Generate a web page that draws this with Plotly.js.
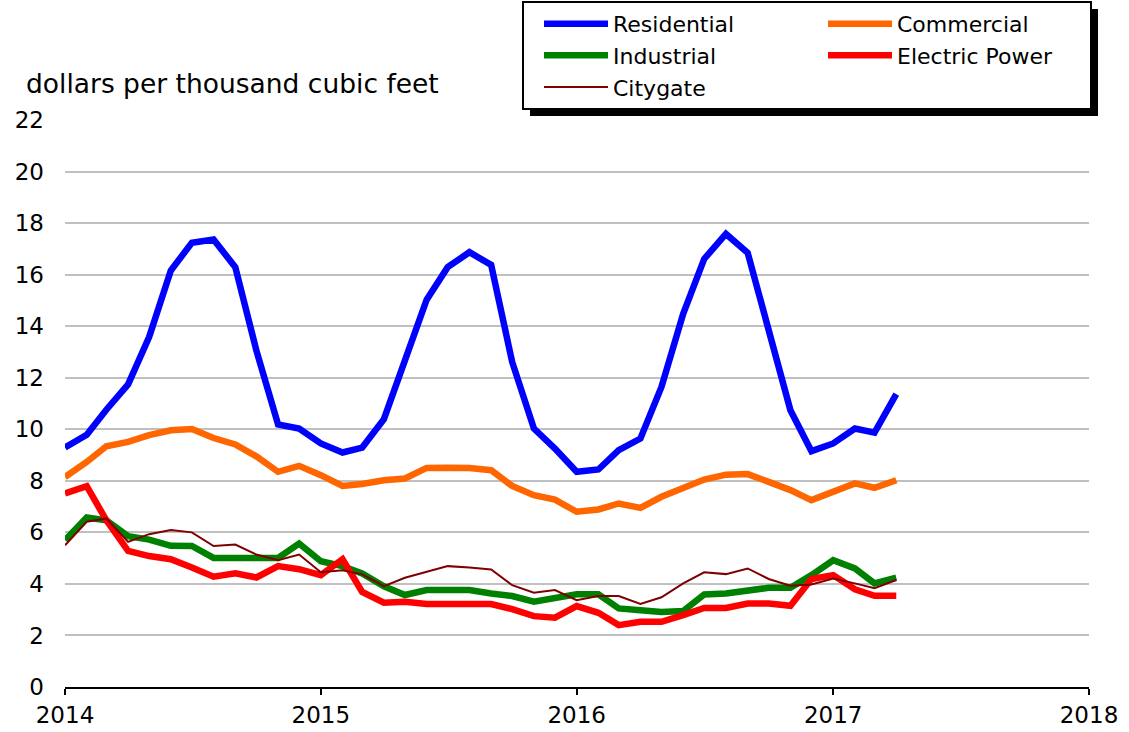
<!DOCTYPE html>
<html>
<head>
<meta charset="utf-8">
<script src="https://cdn.plot.ly/plotly-3.0.1.min.js"></script>
<style>
html,body{margin:0;padding:0;background:#fff;}
#chart{width:1129px;height:732px;}
</style>
</head>
<body>
<div id="chart"></div>
<script>
// Monthly data, Jan 2014 - Apr 2017
const months = [
 '2014-01-01','2014-02-01','2014-03-01','2014-04-01','2014-05-01','2014-06-01','2014-07-01','2014-08-01','2014-09-01','2014-10-01','2014-11-01','2014-12-01',
 '2015-01-01','2015-02-01','2015-03-01','2015-04-01','2015-05-01','2015-06-01','2015-07-01','2015-08-01','2015-09-01','2015-10-01','2015-11-01','2015-12-01',
 '2016-01-01','2016-02-01','2016-03-01','2016-04-01','2016-05-01','2016-06-01','2016-07-01','2016-08-01','2016-09-01','2016-10-01','2016-11-01','2016-12-01',
 '2017-01-01','2017-02-01','2017-03-01','2017-04-01'
];
const residential = [9.29,9.79,10.76,11.74,13.58,16.16,17.24,17.36,16.29,13.06,10.19,10.03,
 9.45,9.10,9.29,10.39,12.67,15.03,16.29,16.87,16.38,12.61,10.03,9.25,
 8.35,8.44,9.19,9.64,11.64,14.48,16.61,17.58,16.85,13.84,10.74,9.15,
 9.45,10.03,9.87,11.36];
const commercial = [8.15,8.73,9.34,9.51,9.77,9.96,10.01,9.66,9.41,8.95,8.35,8.58,
 8.22,7.80,7.88,8.02,8.09,8.50,8.51,8.50,8.41,7.80,7.44,7.27,
 6.80,6.89,7.12,6.95,7.38,7.70,8.05,8.24,8.26,7.96,7.64,7.25,
 7.60,7.90,7.73,8.02];
const industrial = [5.70,6.58,6.47,5.85,5.72,5.48,5.47,5.01,5.01,5.01,5.01,5.57,
 4.88,4.69,4.41,3.91,3.57,3.76,3.76,3.76,3.63,3.53,3.31,3.48,
 3.60,3.60,3.05,2.98,2.91,2.95,3.59,3.63,3.76,3.85,3.85,4.34,
 4.92,4.60,4.02,4.24];
const electricPower = [7.51,7.79,6.47,5.28,5.08,4.96,4.64,4.28,4.41,4.25,4.69,4.57,
 4.34,4.96,3.69,3.27,3.31,3.22,3.22,3.22,3.22,3.02,2.75,2.69,
 3.14,2.88,2.40,2.53,2.53,2.79,3.07,3.07,3.24,3.24,3.15,4.19,
 4.34,3.79,3.54,3.54];
const citygate = [5.50,6.41,6.54,5.63,5.93,6.09,6.00,5.47,5.53,5.14,4.92,5.14,
 4.45,4.53,4.37,3.91,4.24,4.47,4.69,4.64,4.56,3.95,3.66,3.76,
 3.37,3.53,3.53,3.22,3.48,4.02,4.45,4.38,4.60,4.19,3.93,3.98,
 4.21,4.02,3.83,4.15];
const yearTicks = ['2014-01-01','2015-01-01','2016-01-01','2017-01-01','2018-01-01'];
const yearLabels = ['2014','2015','2016','2017','2018'];
const yAxisLabel = 'dollars per thousand cubic feet';

const FONT = 'DejaVu Sans, Liberation Sans, Arial, sans-serif';

function line(name, y, color, width, group, lw) {
  return {x: months, y: y, name: name, type: 'scatter', mode: 'lines',
    line: {color: color, width: width, shape: 'linear'}, legendgroup: group,
    legendwidth: lw, hoverinfo: 'x+y+name'};
}
const data = [
  line('Residential', residential, '#0000FF', 6.5, 'a', 205),
  line('Commercial', commercial, '#FF6600', 6.5, 'b', 188),
  line('Industrial', industrial, '#008000', 6.5, 'a', 205),
  line('Electric Power', electricPower, '#FF0000', 6.5, 'b', 188),
  line('Citygate', citygate, '#7F0000', 2, 'a', 205)
];

const gapShapes = yearTicks.slice(1, 4).map(d => ({
  type: 'line', xref: 'x', yref: 'y', x0: d, x1: d, y0: 0.15, y1: 22.2,
  line: {color: '#FFFFFF', width: 3}, layer: 'below'
}));

const layout = {
  width: 1129, height: 732,
  margin: {l: 65, r: 40, t: 120, b: 45, autoexpand: false},
  paper_bgcolor: '#FFFFFF', plot_bgcolor: '#FFFFFF',
  font: {family: FONT, size: 23, color: '#000000'},
  showlegend: true,
  legend: {
    x: 0.4463, y: 1.21, xanchor: 'left', yanchor: 'top',
    orientation: 'h', traceorder: 'grouped',
    bgcolor: '#FFFFFF', bordercolor: '#000000', borderwidth: 2,
    font: {family: FONT, size: 22, color: '#000000'},
    title: {text: '\u00a0', side: 'left', font: {family: FONT, size: 22}},
    itemwidth: 64, tracegroupgap: 0
  },
  xaxis: {
    type: 'date', range: ['2014-01-01', '2018-01-01'],
    tickmode: 'array', tickvals: yearTicks, ticktext: yearLabels,
    showgrid: false, zeroline: false,
    showline: true, linecolor: '#000000', linewidth: 2,
    ticks: 'outside', ticklen: 6, tickwidth: 2, tickcolor: '#000000',
    tickfont: {family: FONT, size: 23, color: '#000000'},
    fixedrange: true
  },
  yaxis: {
    range: [0, 22], dtick: 2, tick0: 0,
    showgrid: true, gridcolor: '#C0C0C0', gridwidth: 2,
    zeroline: false, showline: false, ticks: '',
    ticklabelstandoff: 20,
    tickfont: {family: FONT, size: 23, color: '#000000'},
    fixedrange: true
  },
  annotations: [{
    text: yAxisLabel, xref: 'paper', yref: 'paper',
    x: -0.04, y: 1.065, xanchor: 'left', yanchor: 'middle',
    showarrow: false, font: {family: FONT, size: 26.5, color: '#000000'}
  }],
  shapes: gapShapes
};

Plotly.newPlot('chart', data, layout, {displayModeBar: false}).then(gd => {
  // drop shadow behind legend box
  const bg = gd.querySelector('.legend rect.bg');
  if (!bg) return;
  const r = bg.getBoundingClientRect();
  const c = gd.getBoundingClientRect();
  const s = gd._fullLayout._size;
  const off = 7;
  const px = v => (v - s.l) / s.w;
  const py = v => (s.t + s.h - v) / s.h;
  const left = r.left - c.left + off, right = r.right - c.left + off;
  const top = r.top - c.top + off, bottom = r.bottom - c.top + off;
  const shadow = {type: 'rect', xref: 'paper', yref: 'paper',
    x0: px(left), x1: px(right), y0: py(bottom), y1: py(top),
    fillcolor: '#000000', line: {width: 0}, layer: 'above'};
  Plotly.relayout(gd, {shapes: gapShapes.concat([shadow])});
});
</script>
</body>
</html>
